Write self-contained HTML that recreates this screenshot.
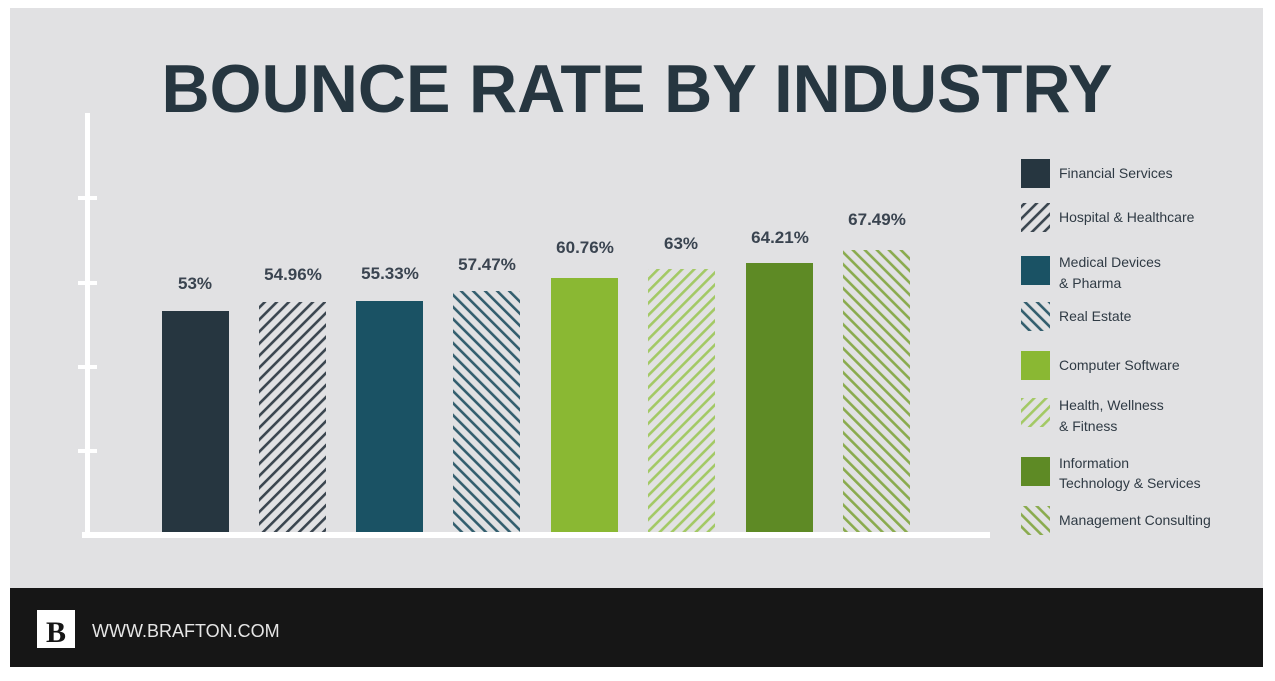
<!DOCTYPE html>
<html><head><meta charset="utf-8"><style>
html,body{margin:0;padding:0;background:#fff;}
svg{display:block;font-family:"Liberation Sans",sans-serif;}
</style></head><body>
<svg width="1275" height="681" viewBox="0 0 1275 681" xmlns="http://www.w3.org/2000/svg">
<defs>
<pattern id="hA" width="8.5" height="8.5" patternUnits="userSpaceOnUse" patternTransform="rotate(45)"><rect width="8.5" height="8.5" fill="#e1e1e3"/><rect x="0" y="0" width="2.6" height="8.5" fill="#3b4650"/></pattern>
<pattern id="hB" width="8.5" height="8.5" patternUnits="userSpaceOnUse" patternTransform="rotate(-45)"><rect width="8.5" height="8.5" fill="#e1e1e3"/><rect x="0" y="0" width="2.6" height="8.5" fill="#335e6e"/></pattern>
<pattern id="hC" width="8.5" height="8.5" patternUnits="userSpaceOnUse" patternTransform="rotate(45)"><rect width="8.5" height="8.5" fill="#e1e1e3"/><rect x="0" y="0" width="2.6" height="8.5" fill="#a3c965"/></pattern>
<pattern id="hD" width="8.5" height="8.5" patternUnits="userSpaceOnUse" patternTransform="rotate(-45)"><rect width="8.5" height="8.5" fill="#e1e1e3"/><rect x="0" y="0" width="2.6" height="8.5" fill="#8aab4e"/></pattern>
</defs>
<rect x="0" y="0" width="1275" height="681" fill="#fff"/>
<rect x="10" y="8" width="1253" height="581" fill="#e1e1e3"/>
<rect x="10" y="588" width="1253" height="79" fill="#161616"/>
<text x="637" y="112" text-anchor="middle" font-size="68" font-weight="bold" fill="#263640" textLength="951" lengthAdjust="spacingAndGlyphs">BOUNCE RATE BY INDUSTRY</text>
<rect x="85" y="113" width="5" height="425" fill="#fff"/>
<rect x="82" y="532" width="908" height="6" fill="#fff"/>
<rect x="78" y="196" width="19" height="4" fill="#fff"/>
<rect x="78" y="281" width="19" height="4" fill="#fff"/>
<rect x="78" y="365" width="19" height="4" fill="#fff"/>
<rect x="78" y="449" width="19" height="4" fill="#fff"/>
<rect x="162" y="311" width="67" height="221" fill="#263640"/>
<rect x="259" y="302" width="67" height="230" fill="url(#hA)"/>
<rect x="356" y="301" width="67" height="231" fill="#1a5264"/>
<rect x="453" y="291" width="67" height="241" fill="url(#hB)"/>
<rect x="551" y="278" width="67" height="254" fill="#8ab833"/>
<rect x="648" y="269" width="67" height="263" fill="url(#hC)"/>
<rect x="746" y="263" width="67" height="269" fill="#5e8a25"/>
<rect x="843" y="250" width="67" height="282" fill="url(#hD)"/>
<g font-size="17" font-weight="bold" fill="#3a4450" text-anchor="middle">
<text x="195" y="289">53%</text>
<text x="293" y="280">54.96%</text>
<text x="390" y="279">55.33%</text>
<text x="487" y="270">57.47%</text>
<text x="585" y="253">60.76%</text>
<text x="681" y="249">63%</text>
<text x="780" y="243">64.21%</text>
<text x="877" y="225">67.49%</text>
</g>
<rect x="1021" y="159" width="29" height="29" fill="#263640"/>
<rect x="1021" y="203" width="29" height="29" fill="url(#hA)"/>
<rect x="1021" y="256" width="29" height="29" fill="#1a5264"/>
<rect x="1021" y="302" width="29" height="29" fill="url(#hB)"/>
<rect x="1021" y="351" width="29" height="29" fill="#8ab833"/>
<rect x="1021" y="398" width="29" height="29" fill="url(#hC)"/>
<rect x="1021" y="457" width="29" height="29" fill="#5e8a25"/>
<rect x="1021" y="506" width="29" height="29" fill="url(#hD)"/>
<g font-size="14" fill="#2f3a44">
<text x="1059" y="178">Financial Services</text>
<text x="1059" y="222">Hospital &amp; Healthcare</text>
<text x="1059" y="267">Medical Devices</text>
<text x="1059" y="288">&amp; Pharma</text>
<text x="1059" y="321">Real Estate</text>
<text x="1059" y="370">Computer Software</text>
<text x="1059" y="410">Health, Wellness</text>
<text x="1059" y="431">&amp; Fitness</text>
<text x="1059" y="468">Information</text>
<text x="1059" y="488">Technology &amp; Services</text>
<text x="1059" y="525">Management Consulting</text>
</g>
<rect x="37" y="610" width="38" height="38" fill="#fff"/>
<text x="56" y="642" text-anchor="middle" font-family="Liberation Serif,serif" font-size="30" font-weight="bold" fill="#161616">B</text>
<text x="92" y="637" font-size="18" fill="#e6e6e6">WWW.BRAFTON.COM</text>
</svg>
</body></html>
